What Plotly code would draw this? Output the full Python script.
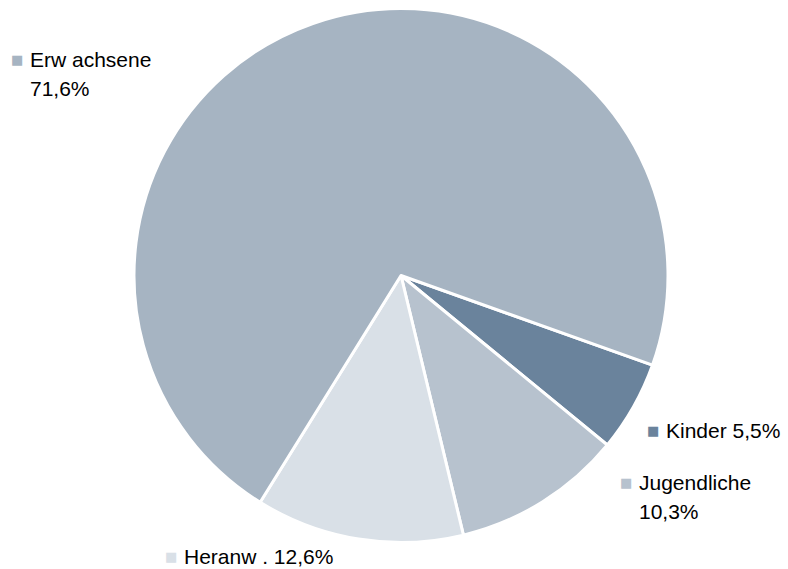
import plotly.graph_objects as go

categories = ["Kinder", "Jugendliche", "Heranw.", "Erwachsene"]
values = [5.5, 10.3, 12.6, 71.6]
colors = ["#6A839C", "#B7C2CE", "#D9E0E7", "#A6B4C2"]
label_lines = [
    ["Kinder 5,5%"],
    ["Jugendliche", "10,3%"],
    ["Heranw . 12,6%"],
    ["Erw achsene", "71,6%"],
]
# label anchor positions (marker x, first-line y) in pixels
label_pos = [(653, 430), (626, 482), (171, 556), (17, 59)]
line_gap = 30

W, H = 788, 569

fig = go.Figure()
fig.add_trace(go.Pie(
    labels=categories,
    values=values,
    sort=False,
    direction="clockwise",
    rotation=109.6,
    marker=dict(colors=colors, line=dict(color="white", width=3)),
    textinfo="none",
    hoverinfo="label+percent",
    showlegend=False,
    domain=dict(x=[134 / W, 668 / W], y=[(H - 543) / H, (H - 8) / H]),
))

annotations = []
for lines, (mx, my), col in zip(label_lines, label_pos, colors):
    annotations.append(dict(
        x=mx / W, y=1 - my / H, xref="paper", yref="paper",
        text="■", showarrow=False, xanchor="center", yanchor="middle",
        font=dict(size=13, color=col, family="DejaVu Sans"),
    ))
    for i, line in enumerate(lines):
        annotations.append(dict(
            x=(mx + 11) / W, y=1 - (my + i * line_gap) / H, xref="paper", yref="paper",
            text=line, showarrow=False, xanchor="left", yanchor="middle",
            align="left",
            font=dict(size=21, color="#000000", family="Liberation Sans, Arial"),
        ))

fig.update_layout(
    width=W, height=H,
    margin=dict(l=0, r=0, t=0, b=0),
    paper_bgcolor="white",
    plot_bgcolor="white",
    annotations=annotations,
)

fig.write_html(
    "out.html",
    config={"displayModeBar": False},
    post_script="document.body.style.margin='0';document.body.style.overflow='hidden';",
)
